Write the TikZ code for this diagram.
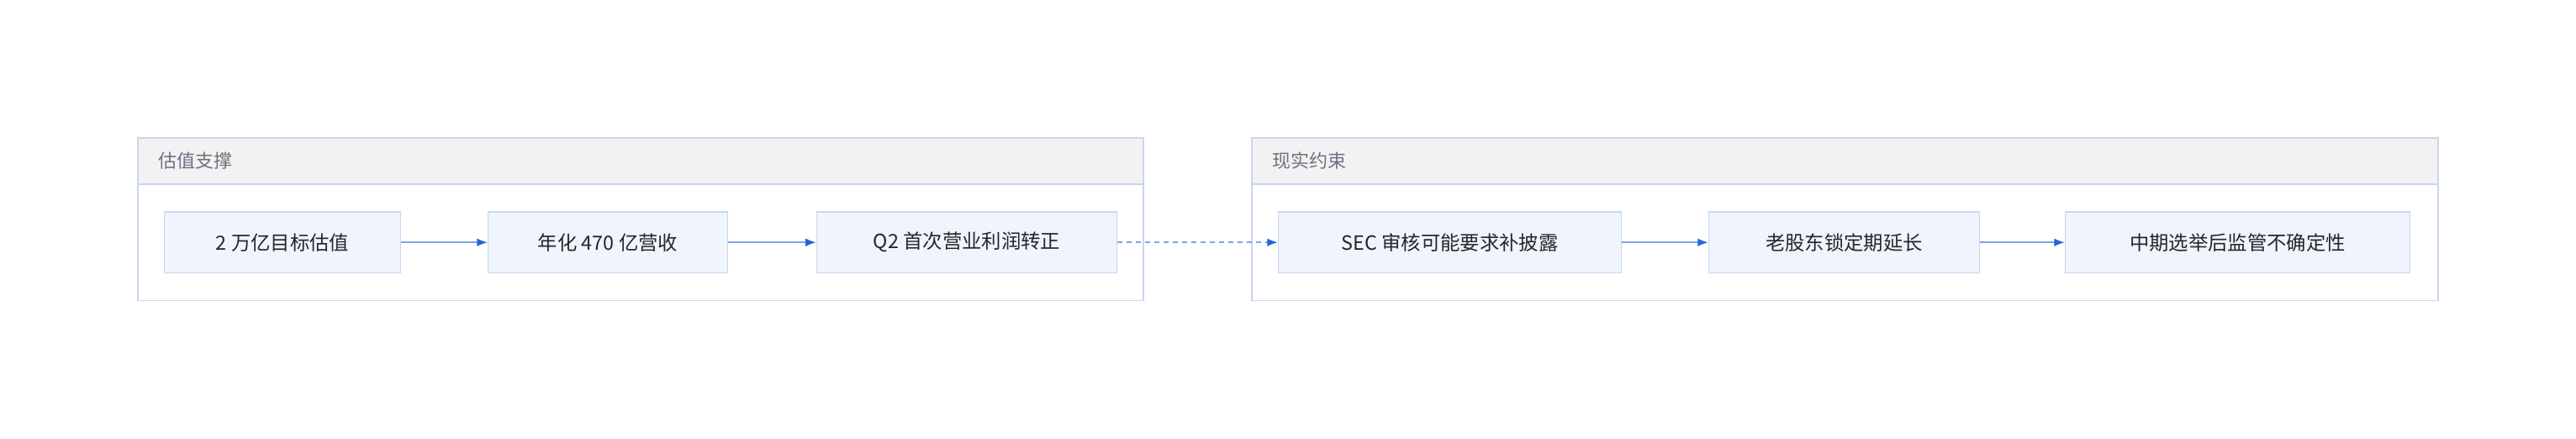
\documentclass[tikz,border=0pt]{standalone}
\usepackage{fontspec}
\setmainfont{Noto Sans CJK SC}
\usetikzlibrary{arrows.meta, positioning}
\definecolor{grpline}{HTML}{C8D6EF}
\definecolor{grpfill}{HTML}{F2F2F2}
\definecolor{boxfill}{HTML}{EFF4FD}
\definecolor{boxline}{HTML}{C6D7F2}
\definecolor{arrline}{HTML}{7FA3E6}
\definecolor{arrtip}{HTML}{2563D9}
\definecolor{hdtext}{HTML}{6B7280}
\tikzset{
  stepbox/.style={draw=boxline, fill=boxfill, line width=0.9pt, minimum height=1.85cm,
    font=\fontsize{17}{20}\selectfont, text=black!85},
  flow/.style={-{Latex[length=9pt,width=7pt,color=arrtip]}, draw=arrline, line width=1.1pt},
  group/.style={draw=grpline, line width=1.1pt},
  header/.style={draw=grpline, fill=grpfill, line width=1.1pt},
  grptitle/.style={anchor=west, text=hdtext, font=\fontsize{16}{19}\selectfont}
}
\begin{document}
\begin{tikzpicture}
	\useasboundingbox (0,0) rectangle (78.4,-13.35);
	
	% group: valuation support
	\draw[group] (4.2,-4.2) rectangle (34.8,-9.15);
	\draw[header] (4.2,-4.2) rectangle (34.8,-5.6);
	\node[grptitle] (t1) at (4.7,-4.9) {估值支撑};
	
	% group: real constraints
	\draw[group] (38.1,-4.2) rectangle (74.2,-9.15);
	\draw[header] (38.1,-4.2) rectangle (74.2,-5.6);
	\node[grptitle] (t2) at (38.6,-4.9) {现实约束};
	
	% steps
	\node[stepbox, minimum width=7.2cm] (a) at (8.6,-7.375) {2 万亿目标估值};
	\node[stepbox, minimum width=7.3cm] (b) at (18.5,-7.375) {年化 470 亿营收};
	\node[stepbox, minimum width=9.15cm] (c) at (29.425,-7.375) {Q2 首次营业利润转正};
	\node[stepbox, minimum width=10.45cm] (d) at (44.125,-7.375) {SEC 审核可能要求补披露};
	\node[stepbox, minimum width=8.25cm] (e) at (56.125,-7.375) {老股东锁定期延长};
	\node[stepbox, minimum width=10.5cm] (f) at (68.1,-7.375) {中期选举后监管不确定性};
	
	% connectors
	\draw[flow] (a) -- (b);
	\draw[flow] (b) -- (c);
	\draw[flow, dash pattern=on 4pt off 4pt] (c) -- (d);
	\draw[flow] (d) -- (e);
	\draw[flow] (e) -- (f);
\end{tikzpicture}
\end{document}
